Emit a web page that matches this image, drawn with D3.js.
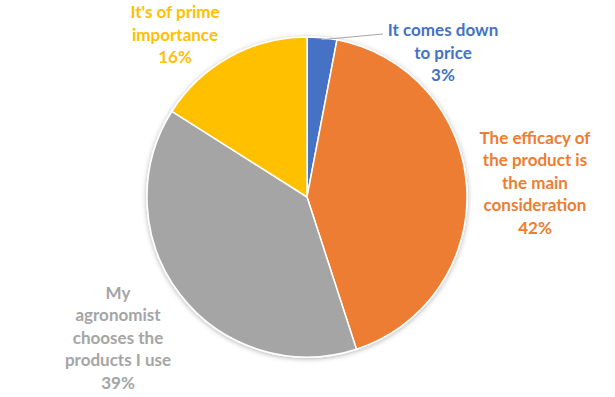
<!DOCTYPE html>
<html>
<head>
<meta charset="utf-8">
<script src="https://cdn.jsdelivr.net/npm/d3@7"></script>
<style>
  body { margin: 0; background: #fff; }
  svg { display: block; }
  text { font-family: Lato, "Open Sans", sans-serif; font-weight: bold; }
</style>
</head>
<body>
<div id="chart"></div>
<script>
const categories = [
    "It comes down to price",
    "The efficacy of the product is the main consideration",
    "My agronomist chooses the products I use",
    "It's of prime importance"
];
const shares = [3, 42, 39, 16];
const colours = ["#4472C4", "#ED7D31", "#A5A5A5", "#FFC000"];
// label text broken the way the original wraps it
const labelLines = [
    ["It comes down", "to price"],
    ["The efficacy of", "the product is", "the main", "consideration"],
    ["My", "agronomist", "chooses the", "products I use"],
    ["It's of prime", "importance"]
];

const width = 615, height = 397;
const cx = 307, cy = 197, radius = 160;
const lineH = 22.5;

// where each label block sits, relative to the pie centre
const labelOffset = [
    {dx: 136, dy: -144},
    {dx: 228, dy: -14},
    {dx: -189, dy: 141},
    {dx: -132, dy: -162}
];

const svg = d3.select("#chart").append("svg")
    .attr("width", width)
    .attr("height", height);

const defs = svg.append("defs");
defs.append("filter")
    .attr("id", "shadow")
    .attr("x", "-20%").attr("y", "-20%")
    .attr("width", "140%").attr("height", "140%")
    .append("feDropShadow")
    .attr("dx", 0).attr("dy", 1)
    .attr("stdDeviation", 2.5)
    .attr("flood-color", "#000")
    .attr("flood-opacity", 0.3);

const pie = d3.pie().sort(null).value(d => d);
const arcs = pie(shares);
const arc = d3.arc().innerRadius(0).outerRadius(radius);

const g = svg.append("g").attr("transform", `translate(${cx},${cy})`);

g.append("g")
    .attr("filter", "url(#shadow)")
    .selectAll("path")
    .data(arcs)
    .join("path")
    .attr("d", arc)
    .attr("fill", (d, i) => colours[i])
    .attr("stroke", "#fff")
    .attr("stroke-width", 1.5);

// leader line for the small slice
const small = arcs[0];
const edge = d3.arc().innerRadius(radius).outerRadius(radius);
const p0 = edge.centroid(small);
g.append("polyline")
    .attr("points", [[p0[0] - 1, p0[1] + 2], [labelOffset[0].dx - 60, labelOffset[0].dy - 19]].map(p => p.join(",")).join(" "))
    .attr("fill", "none")
    .attr("stroke", "#A6A6A6")
    .attr("stroke-width", 1);

const labels = g.selectAll("text.lbl")
    .data(arcs)
    .join("text")
    .attr("class", "lbl")
    .attr("text-anchor", "middle")
    .attr("font-size", 17)
    .attr("fill", (d, i) => colours[i]);

labels.each(function(d, i) {
    const lines = labelLines[i].concat([d.data + "%"]);
    const off = labelOffset[i];
    const top = off.dy - (lines.length - 1) * lineH / 2;
    d3.select(this).selectAll("tspan")
        .data(lines)
        .join("tspan")
        .attr("x", off.dx)
        .attr("y", (t, k) => top + k * lineH)
        .attr("dy", "0.35em")
        .text(t => t);
});
</script>
</body>
</html>
